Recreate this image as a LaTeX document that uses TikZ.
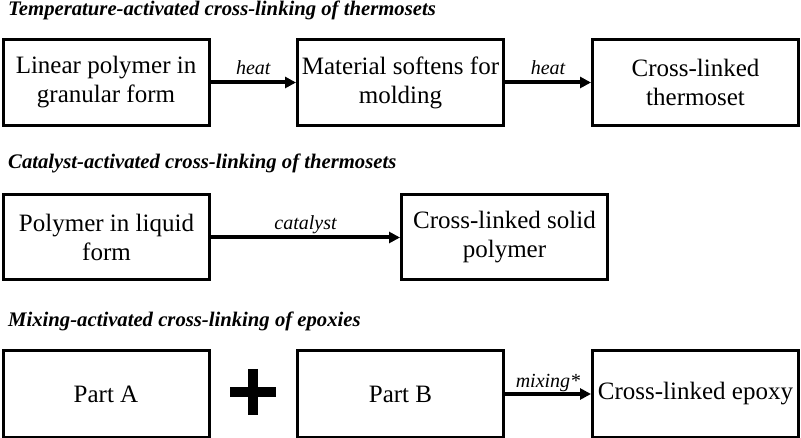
\documentclass[tikz,border=0pt]{standalone}
\usepackage{fontspec}
\setmainfont{Liberation Serif}
\usetikzlibrary{arrows.meta}
\begin{document}
\begin{tikzpicture}[x=1pt, y=-1pt, line join=miter, >={Triangle[length=11pt,width=11pt]},
    box/.style={draw, line width=3pt, minimum width=206pt, minimum height=86pt, inner sep=0pt, align=center, font=\fontsize{25}{29}\selectfont},
    ttl/.style={anchor=base west, inner sep=0pt, font=\fontsize{20.7}{24}\selectfont\bfseries\itshape},
    lbl/.style={midway, anchor=base, inner sep=0pt, yshift=8pt, font=\fontsize{20}{22}\selectfont\itshape},
    link/.style={->, line width=4pt}]
    \useasboundingbox (0,0) rectangle (801,438);
    % temperature
    \node[ttl] (t1) at (8,15.5) {Temperature-activated cross-linking of thermosets};
    \node[box] (lin) at (106,82.5) {Linear polymer in\\granular form};
    \node[box] (soft) at (400.5,82.5) {Material softens for\\molding};
    \node[box] (therm) at (695.5,82.5) {Cross-linked\\thermoset};
    \draw[link] (lin.east)--(soft.west) node[lbl] {heat};
    \draw[link] (soft.east)--(therm.west) node[lbl] {heat};
    % catalyst
    \node[ttl] (t2) at (8,168.5) {Catalyst-activated cross-linking of thermosets};
    \node[box, minimum height=85pt] (liq) at (106.5,237.5) {Polymer in liquid\\form};
    \node[box, minimum height=85pt] (solid) at (504.5,237.5) {Cross-linked solid\\polymer};
    \draw[link] (liq.east)--(solid.west) node[lbl] {catalyst};
    % mixing
    \node[ttl] (t3) at (8,327) {Mixing-activated cross-linking of epoxies};
    \node[box] (pa) at (106,394) {Part A};
    \node[box] (pb) at (400.5,394) {Part B};
    \node[box] (epo) at (695.5,394) {Cross-linked epoxy};
    \draw[line width=10pt] (253,369)--(253,415) (230,392)--(276,392);
    \draw[link] (pb.east)--(epo.west) node[lbl, yshift=-2pt] {mixing*};
\end{tikzpicture}
\end{document}
